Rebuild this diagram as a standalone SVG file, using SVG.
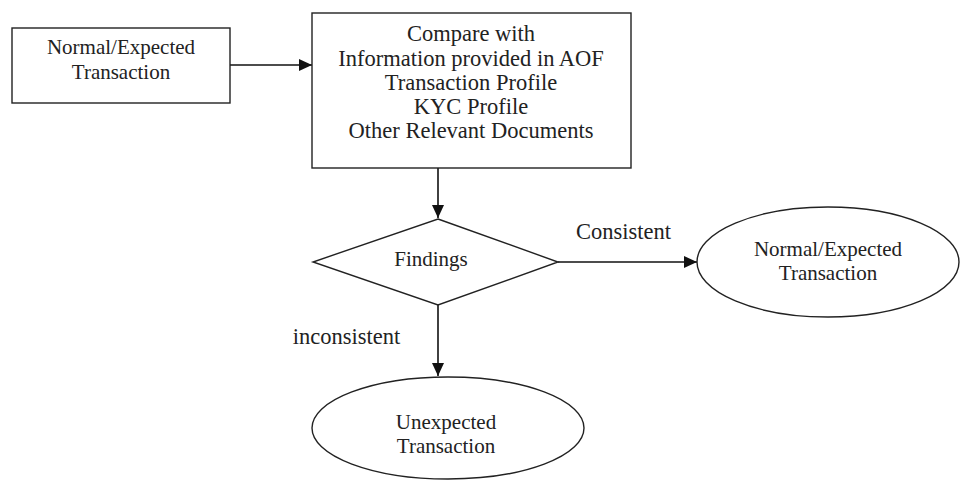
<svg xmlns="http://www.w3.org/2000/svg" width="962" height="485" viewBox="0 0 962 485">
<defs>
<marker id="ah" markerUnits="userSpaceOnUse" markerWidth="14" markerHeight="14" viewBox="0 0 14 14" refX="13" refY="7" orient="auto">
<path d="M0,1 L13,7 L0,13 Z" fill="#111"/>
</marker>
</defs>
<style>
.shape{fill:#fff;stroke:#222;stroke-width:1.4}
.conn{fill:none;stroke:#111;stroke-width:1.6}
text{font-family:"Liberation Serif","Times New Roman",serif;fill:#222;text-anchor:middle}
.t21{font-size:21px}
.t22{font-size:22.5px}
</style>
<rect width="962" height="485" fill="#fff"/>
<g id="connectors">
<line class="conn" x1="230" y1="65" x2="312" y2="65" marker-end="url(#ah)"/>
<line class="conn" x1="438" y1="168" x2="438" y2="218" marker-end="url(#ah)"/>
<line class="conn" x1="558" y1="262" x2="697" y2="262" marker-end="url(#ah)"/>
<line class="conn" x1="438" y1="305" x2="438" y2="376" marker-end="url(#ah)"/>
<text class="t22" x="623.5" y="239">Consistent</text>
<text class="t22" x="346.5" y="344">inconsistent</text>
</g>
<g id="start">
<rect class="shape" x="12" y="28" width="218" height="75"/>
<text class="t21" x="121" y="54">Normal/Expected</text>
<text class="t21" x="121" y="79">Transaction</text>
</g>
<g id="compare">
<rect class="shape" x="312" y="13" width="319" height="155"/>
<text class="t22" x="471" y="41">Compare with</text>
<text class="t22" x="471" y="65.5">Information provided in AOF</text>
<text class="t22" x="471" y="89.5">Transaction Profile</text>
<text class="t22" x="471" y="113.5">KYC Profile</text>
<text class="t22" x="471" y="137.5">Other Relevant Documents</text>
</g>
<g id="findings">
<polygon class="shape" points="438,219 558,262 438,305 313,262"/>
<text class="t21" x="431" y="266">Findings</text>
</g>
<g id="normal">
<ellipse class="shape" cx="828" cy="262" rx="131" ry="55"/>
<text class="t21" x="828" y="256">Normal/Expected</text>
<text class="t21" x="828" y="280">Transaction</text>
</g>
<g id="unexpected">
<ellipse class="shape" cx="448" cy="428" rx="136" ry="51"/>
<text class="t21" x="446" y="429">Unexpected</text>
<text class="t21" x="446" y="453">Transaction</text>
</g>
</svg>
